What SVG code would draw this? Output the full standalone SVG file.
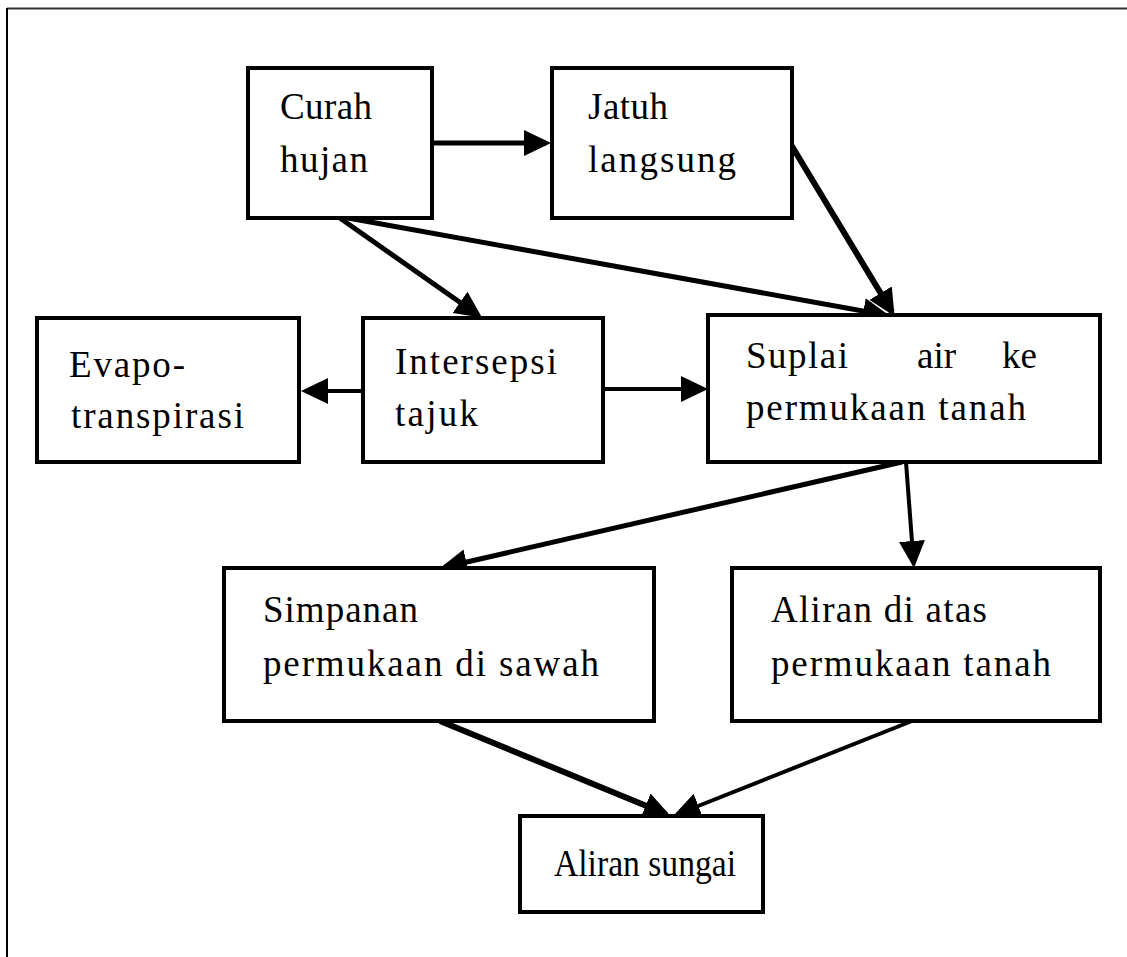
<svg xmlns="http://www.w3.org/2000/svg" width="1127" height="957" viewBox="0 0 1127 957">
<style>
.box{fill:#fff;stroke:#000;stroke-width:4}
.t{font-family:"Liberation Serif","Times New Roman",serif;font-size:37px;fill:#000}
.c{fill:none;stroke:#000;stroke-linecap:butt}
</style>
<defs>
<marker id="ah" markerUnits="userSpaceOnUse" markerWidth="27" markerHeight="26" refX="22" refY="13" orient="auto">
<path d="M0,0 L27,13 L0,26 z" fill="#000"/>
</marker>
</defs>
<rect width="1127" height="957" fill="#fff"/>
<g id="frame">
<line x1="7" y1="8.5" x2="1127" y2="8.5" stroke="#333" stroke-width="2"/>
<line x1="7" y1="8" x2="7" y2="957" stroke="#000" stroke-width="2"/>
</g>
<g id="connectors">
<path class="c" stroke-width="5" d="M432,143 H546" marker-end="url(#ah)"/>
<path class="c" stroke-width="6" d="M790,143 L892,312" marker-end="url(#ah)"/>
<path class="c" stroke-width="5" d="M337,216 L885,315" marker-end="url(#ah)"/>
<path class="c" stroke-width="5" d="M337,216 L478,315" marker-end="url(#ah)"/>
<path class="c" stroke-width="4" d="M363,391 H306" marker-end="url(#ah)"/>
<path class="c" stroke-width="4" d="M598,389 H703" marker-end="url(#ah)"/>
<path class="c" stroke-width="5" d="M902,462 L445,567" marker-end="url(#ah)"/>
<path class="c" stroke-width="4" d="M906,462 L913.6,563" marker-end="url(#ah)"/>
<path class="c" stroke-width="6" d="M440,721 L666,814" marker-end="url(#ah)"/>
<path class="c" stroke-width="4" d="M912,721 L678,814" marker-end="url(#ah)"/>
</g>
<g id="curah">
<rect class="box" x="248" y="68" width="184" height="150"/>
<text class="t" x="280" y="119" textLength="92">Curah</text>
<text class="t" x="280" y="172" textLength="88">hujan</text>
</g>
<g id="jatuh">
<rect class="box" x="552" y="68" width="240" height="150"/>
<text class="t" x="588" y="119" textLength="80">Jatuh</text>
<text class="t" x="588" y="172" textLength="148">langsung</text>
</g>
<g id="evapo">
<rect class="box" x="37" y="318" width="262" height="144"/>
<text class="t" x="69" y="377" textLength="116">Evapo-</text>
<text class="t" x="71" y="428" textLength="173">transpirasi</text>
</g>
<g id="intersepsi">
<rect class="box" x="363" y="318" width="240" height="144"/>
<text class="t" x="395" y="374" textLength="162">Intersepsi</text>
<text class="t" x="395" y="426" textLength="83">tajuk</text>
</g>
<g id="suplai">
<rect class="box" x="708" y="315" width="392" height="147"/>
<text class="t" x="746" y="368" textLength="102">Suplai</text>
<text class="t" x="917" y="368">air</text>
<text class="t" x="1002" y="368">ke</text>
<text class="t" x="746" y="420" textLength="280">permukaan tanah</text>
</g>
<g id="simpanan">
<rect class="box" x="224" y="568" width="430" height="153"/>
<text class="t" x="263" y="622" textLength="155">Simpanan</text>
<text class="t" x="263" y="676" textLength="336">permukaan di sawah</text>
</g>
<g id="aliran-atas">
<rect class="box" x="732" y="568" width="368" height="153"/>
<text class="t" x="771" y="622" textLength="216">Aliran di atas</text>
<text class="t" x="771" y="676" textLength="280">permukaan tanah</text>
</g>
<g id="aliran-sungai">
<rect class="box" x="520" y="816" width="243" height="96"/>
<text class="t" x="554" y="876" textLength="182" lengthAdjust="spacingAndGlyphs">Aliran sungai</text>
</g>
</svg>
